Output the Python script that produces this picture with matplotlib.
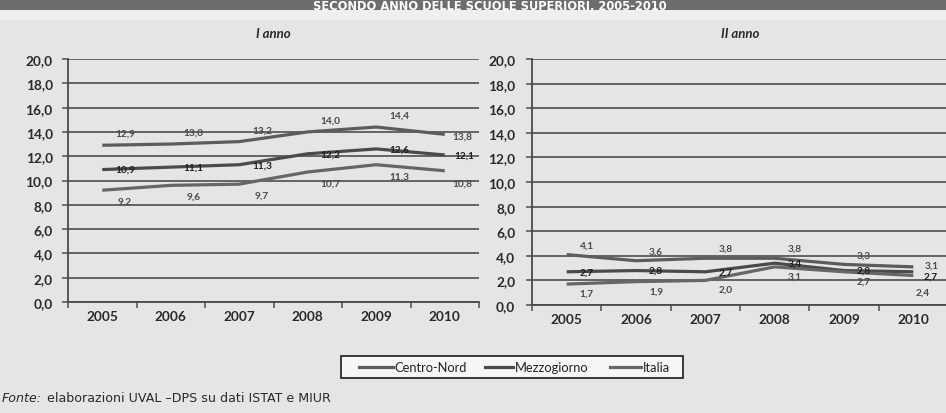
import matplotlib
matplotlib.use("Agg")
import matplotlib.pyplot as plt
from matplotlib.lines import Line2D
import numpy as np

years = ["2005", "2006", "2007", "2008", "2009", "2010"]
series_names = ["Centro-Nord", "Mezzogiorno", "Italia"]

# I anno
anno1_top = [12.9, 13.0, 13.2, 14.0, 14.4, 13.8]
anno1_mid = [10.9, 11.1, 11.3, 12.2, 12.6, 12.1]
anno1_bot = [9.2, 9.6, 9.7, 10.7, 11.3, 10.8]
# II anno
anno2_top = [4.1, 3.6, 3.8, 3.8, 3.3, 3.1]
anno2_mid = [2.7, 2.8, 2.7, 3.4, 2.8, 2.7]
anno2_bot = [1.7, 1.9, 2.0, 3.1, 2.7, 2.4]

yticks = [0, 2, 4, 6, 8, 10, 12, 14, 16, 18, 20]

W, H = 946, 414
fig = plt.figure(figsize=(W / 100, H / 100), dpi=100)
bg = "#e5e5e5"
fig.patch.set_facecolor(bg)

# title band
fig.patches.append(plt.Rectangle((0, 1 - 11 / H), 1, 11 / H, transform=fig.transFigure,
                                 facecolor="#6d6d6d", edgecolor="none", zorder=0))
fig.patches.append(plt.Rectangle((0, 1 - 21 / H), 1, 10 / H, transform=fig.transFigure,
                                 facecolor="#efefef", edgecolor="none", zorder=0))
fig.text(490 / W, 1 - 9.5 / H, "SECONDO ANNO DELLE SCUOLE SUPERIORI, 2005-2010",
         ha="center", va="baseline", color="white", fontsize=8.3,
         fontweight="bold", family="DejaVu Sans")

line_col = ["#5c5c5c", "#4a4a4a", "#666666"]
lab_col = ["#4a4a4a", "#1e1e1e", "#4a4a4a"]


def make_panel(rect, title, top, mid, bot, dx, dy_top, dy_bot, end_offsets, ylabpad):
    ax = fig.add_axes(rect)
    ax.set_facecolor("none")
    x = np.arange(len(years)) + 0.5
    data = [top, mid, bot]
    for i, vals in enumerate(data):
        ax.plot(x, vals, color=line_col[i], lw=2.3, solid_joinstyle="round",
                solid_capstyle="butt", zorder=3)
    offs = [dy_top, 0, dy_bot]
    for i, vals in enumerate(data):
        for j, v in enumerate(vals):
            if j == len(vals) - 1:
                ox, oy = end_offsets[i]
            else:
                ox, oy = dx, offs[i]
            ax.annotate(f"{v:.1f}".replace(".", ","), (x[j], v), xytext=(ox, oy),
                        textcoords="offset points", ha="center", va="center",
                        fontsize=7.3, fontweight="bold", color=lab_col[i],
                        family="Lato", zorder=4, annotation_clip=False)
    ax.set_xlim(0, 6)
    ax.set_ylim(0, 20)
    ax.set_yticks(yticks)
    ax.set_yticklabels([f"{t:.1f}".replace(".", ",") for t in yticks],
                       fontsize=9.8, fontweight="bold", family="Lato", color="#2a2a2a")
    ax.grid(axis="y", color="#5a5a5a", lw=1.3, zorder=1)
    ax.set_axisbelow(True)
    ax.tick_params(axis="y", length=4, width=1.2, color="#5a5a5a", pad=ylabpad)
    ax.set_xticks(np.arange(0, 7))
    ax.set_xticklabels([])
    ax.set_xticks(x, minor=True)
    ax.set_xticklabels(years, minor=True, fontsize=9.8, fontweight="bold",
                       family="Lato", color="#2a2a2a")
    ax.tick_params(axis="x", which="major", length=4, width=1.2, color="#5a5a5a")
    ax.tick_params(axis="x", which="minor", length=0, pad=6)
    for s in ["top", "right"]:
        ax.spines[s].set_visible(False)
    for s in ["left", "bottom"]:
        ax.spines[s].set_color("#4a4a4a")
        ax.spines[s].set_linewidth(1.3)
    ax.set_title(title, fontsize=9.5, fontweight="bold", style="italic",
                 family="Lato", color="#2a2a2a", pad=16)
    return ax


make_panel([68 / W, 1 - 303 / H, 411 / W, 243 / H], "I anno",
           anno1_top, anno1_mid, anno1_bot, 16.5, 8.5, -8,
           [(13, -1.5), (14, 0), (13, -9)], 7)
make_panel([532 / W, 1 - 306 / H, 416 / W, 246 / H], "II anno",
           anno2_top, anno2_mid, anno2_bot, 14.5, 7, -6.5,
           [(13.5, 1), (12.5, -3), (6.5, -12)], 8)

# legend drawn as a box with three entries
fig.patches.append(plt.Rectangle((341 / W, 1 - 379 / H), 342 / W, 22 / H,
                                 transform=fig.transFigure, facecolor="#f6f6f6",
                                 edgecolor="#2a2a2a", lw=1.3, zorder=5))
leg_y = 1 - 368 / H
entries_px = [(359, 393), (485, 513), (610, 641)]
for i, name in enumerate(series_names):
    x0, x1 = entries_px[i]
    fig.add_artist(Line2D([x0 / W, x1 / W], [leg_y, leg_y], transform=fig.transFigure,
                          color=line_col[i], lw=2.3, zorder=6))
    fig.text((x1 + 1.5) / W, leg_y, name, ha="left", va="center", fontsize=9.3,
             family="Lato", color="#222222", zorder=7)

fig.text(2 / W, 1 - 399 / H, "Fonte:", fontsize=9.1, style="italic", family="DejaVu Sans",
         color="#2a2a2a", va="center", ha="left")
fig.text(47 / W, 1 - 399 / H, "elaborazioni UVAL \u2013DPS su dati ISTAT e MIUR", fontsize=9.1,
         family="DejaVu Sans", color="#2a2a2a", va="center", ha="left")

fig.savefig("out.png", dpi=100, facecolor=fig.get_facecolor())
